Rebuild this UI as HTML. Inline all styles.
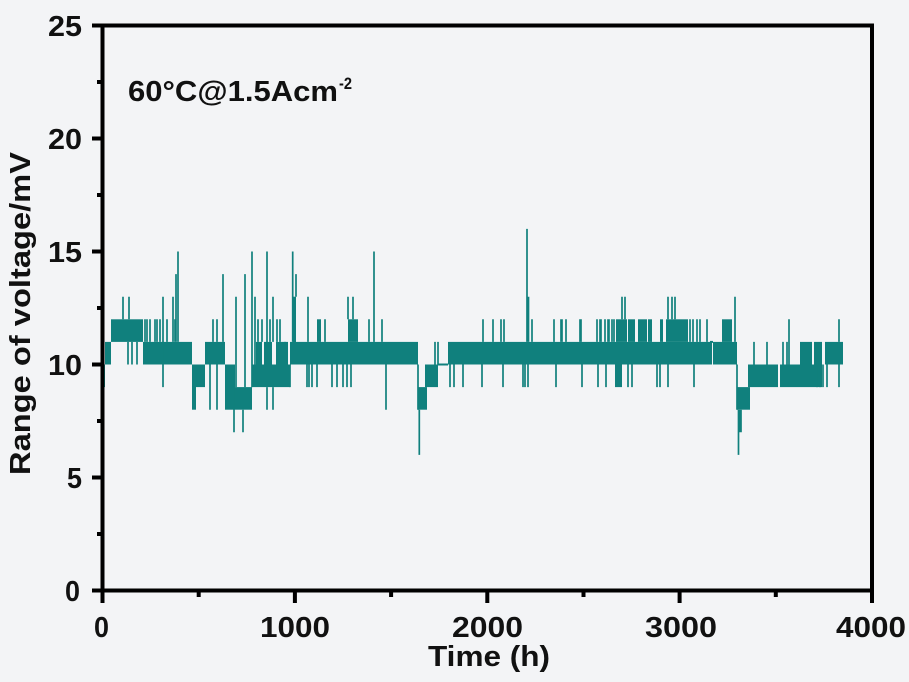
<!DOCTYPE html>
<html><head><meta charset="utf-8"><style>
html,body{margin:0;padding:0;background:#f3f4f6;}
svg{display:block;}
text{font-family:"Liberation Sans",Arial,sans-serif;font-weight:bold;fill:#111;}
</style></head><body>
<svg width="909" height="682" viewBox="0 0 909 682" xmlns="http://www.w3.org/2000/svg">
<rect width="909" height="682" fill="#f3f4f6"/>
<g fill="#10807d">
<rect x="103" y="364.5" width="2" height="22.6"/>
<rect x="105" y="341.9" width="6" height="22.6"/>
<rect x="111" y="319.3" width="32" height="22.6"/>
<rect x="143" y="341.9" width="49" height="22.6"/>
<rect x="192" y="364.5" width="4" height="45.2"/>
<rect x="196" y="364.5" width="9" height="22.6"/>
<rect x="205" y="341.9" width="20" height="22.6"/>
<rect x="225" y="364.5" width="10" height="45.2"/>
<rect x="235" y="387.1" width="17" height="22.6"/>
<rect x="252" y="364.5" width="38" height="22.6"/>
<rect x="256" y="341.9" width="6" height="22.6"/>
<rect x="264" y="341.9" width="8" height="22.6"/>
<rect x="276" y="341.9" width="12" height="22.6"/>
<rect x="290" y="341.9" width="3" height="22.6"/>
<rect x="293" y="296.7" width="3" height="67.8"/>
<rect x="296" y="341.9" width="122" height="22.6"/>
<rect x="317" y="319.3" width="4" height="22.6"/>
<rect x="348" y="319.3" width="10" height="22.6"/>
<rect x="418" y="387.1" width="9" height="22.6"/>
<rect x="425" y="364.5" width="13" height="22.6"/>
<rect x="438" y="363.5" width="10" height="2"/>
<rect x="448" y="341.9" width="264" height="22.6"/>
<rect x="615" y="364.5" width="7" height="22.6"/>
<rect x="616" y="319.3" width="11" height="22.6"/>
<rect x="628" y="319.3" width="7" height="22.6"/>
<rect x="638" y="319.3" width="9" height="22.6"/>
<rect x="648" y="319.3" width="4" height="22.6"/>
<rect x="660" y="319.3" width="3" height="22.6"/>
<rect x="666" y="319.3" width="22" height="22.6"/>
<rect x="710" y="340.9" width="3" height="2"/>
<rect x="713" y="341.9" width="24" height="22.6"/>
<rect x="722" y="319.3" width="10" height="22.6"/>
<rect x="737" y="387.1" width="13" height="22.6"/>
<rect x="748" y="364.5" width="30" height="22.6"/>
<rect x="780" y="364.5" width="42" height="22.6"/>
<rect x="800" y="341.9" width="12" height="22.6"/>
<rect x="814" y="341.9" width="8" height="22.6"/>
<rect x="825" y="341.9" width="18" height="22.6"/>
</g>
<path fill="none" stroke="#10807d" stroke-width="1.7" d="
M123 319.3V296.7 M129 319.3V296.7 M128 341.9V364.5 M132 341.9V364.5 M137 341.9V364.5
M145 341.9V319.3 M147 341.9V319.3 M150 341.9V319.3 M155 341.9V319.3 M157 341.9V319.3 M160 341.9V319.3 M167 341.9V319.3
M163 296.7V387.1 M173 341.9V296.7 M176 341.9V274.1 M178 341.9V251.5 M175 341.9V319.3
M213 341.9V319.3 M217 341.9V319.3 M210 364.5V409.7 M217 364.5V409.7 M223 341.9V274.1
M234 387.1V432.3 M236 387.1V296.7 M243 409.7V432.3 M245 387.1V274.1 M252 387.1V251.5
M255 364.5V296.7 M258 341.9V319.3 M262 341.9V319.3 M267 364.5V251.5 M267 387.1V409.7 M270 341.9V319.3
M273 341.9V296.7 M273 387.1V409.7 M277 341.9V319.3 M280 341.9V319.3 M285 364.5V341.9
M292.7 341.9V251.5 M296 296.7V274.1
M308 341.9V296.7 M348 319.3V296.7 M353 319.3V296.7
M325 341.9V319.3 M369 341.9V319.3 M382 341.9V319.3 M374 341.9V251.5
M290 364.5V387.1 M307 364.5V387.1 M309 364.5V387.1 M312 364.5V387.1 M317 364.5V387.1 M332 364.5V387.1 M337 364.5V387.1 M343 364.5V387.1 M347 364.5V387.1 M351 364.5V387.1
M386 364.5V409.7
M418 364.5V409.7 M419.3 409.7V454.9
M435 364.5V341.9 M438 364.5V341.9
M450 364.5V387.1 M454 364.5V387.1 M463 364.5V387.1 M482 364.5V387.1 M503 364.5V387.1 M523 364.5V387.1 M525 364.5V387.1 M528 364.5V387.1 M556 364.5V387.1 M582 364.5V387.1 M598 364.5V387.1 M606 364.5V387.1 M628 364.5V387.1 M632 364.5V387.1 M657 364.5V387.1 M660 364.5V387.1 M668 364.5V387.1 M694 364.5V387.1
M483 341.9V319.3 M493 341.9V319.3 M501 341.9V319.3 M504 341.9V319.3 M532 341.9V319.3 M554 341.9V319.3 M561 341.9V319.3 M562 341.9V319.3 M566 341.9V319.3 M580 341.9V319.3 M581 341.9V319.3 M597 341.9V319.3 M600 341.9V319.3 M601 341.9V319.3 M605 341.9V319.3 M608 341.9V319.3 M609 341.9V319.3 M612 341.9V319.3 M614 341.9V319.3 M690 341.9V319.3 M693 341.9V319.3 M697 341.9V319.3 M700 341.9V319.3 M707 341.9V319.3
M527 341.9V228.9 M528.5 341.9V296.7
M622 319.3V296.7 M625 319.3V296.7 M668 319.3V296.7 M672 319.3V296.7 M675 319.3V296.7
M735 341.9V296.7
M737 364.5V409.7 M738.5 409.7V454.9 M740 409.7V432.3 M741 409.7V432.3
M754 364.5V341.9 M767 364.5V341.9 M783 364.5V341.9 M787 364.5V341.9
M789 364.5V319.3 M839 341.9V319.3 M839 364.5V387.1 M817 364.5V387.1 M820 364.5V387.1 M823 364.5V387.1 M827 364.5V387.1
"/>
<g stroke="#000" stroke-width="4" fill="none">
<rect x="102.5" y="25.5" width="769.5" height="565"/>
<path d="M92 590.5H102.5 M92 477.5H102.5 M92 364.5H102.5 M92 251.5H102.5 M92 138.5H102.5 M92 25.5H102.5
M97 534H102.5 M97 421H102.5 M97 308H102.5 M97 195H102.5 M97 82H102.5
M102.5 590.5V603 M294.9 590.5V603 M487.3 590.5V603 M679.6 590.5V603 M872 590.5V603
M198.7 590.5V597 M391.1 590.5V597 M583.5 590.5V597 M775.8 590.5V597"/>
</g>
<g font-size="29">
<text x="65" y="601" textLength="15" lengthAdjust="spacingAndGlyphs">0</text>
<text x="67" y="488" textLength="15" lengthAdjust="spacingAndGlyphs">5</text>
<text x="48" y="375" textLength="34" lengthAdjust="spacingAndGlyphs">10</text>
<text x="48" y="262" textLength="34" lengthAdjust="spacingAndGlyphs">15</text>
<text x="48" y="149" textLength="34" lengthAdjust="spacingAndGlyphs">20</text>
<text x="48" y="36" textLength="34" lengthAdjust="spacingAndGlyphs">25</text>
<text x="94" y="637" textLength="15" lengthAdjust="spacingAndGlyphs">0</text>
<text x="260" y="637" textLength="70" lengthAdjust="spacingAndGlyphs">1000</text>
<text x="452" y="637" textLength="71" lengthAdjust="spacingAndGlyphs">2000</text>
<text x="645" y="637" textLength="72" lengthAdjust="spacingAndGlyphs">3000</text>
<text x="836" y="637" textLength="70" lengthAdjust="spacingAndGlyphs">4000</text>
<text x="428" y="666" textLength="122" lengthAdjust="spacingAndGlyphs">Time (h)</text>
<text transform="translate(30,475) rotate(-90)" x="0" y="0" textLength="323" lengthAdjust="spacingAndGlyphs">Range of voltage/mV</text>
<text x="128" y="101" textLength="210" lengthAdjust="spacingAndGlyphs">60°C@1.5Acm</text>
<text x="339" y="89" font-size="17" textLength="13" lengthAdjust="spacingAndGlyphs">-2</text>
</g>
</svg>
</body></html>
